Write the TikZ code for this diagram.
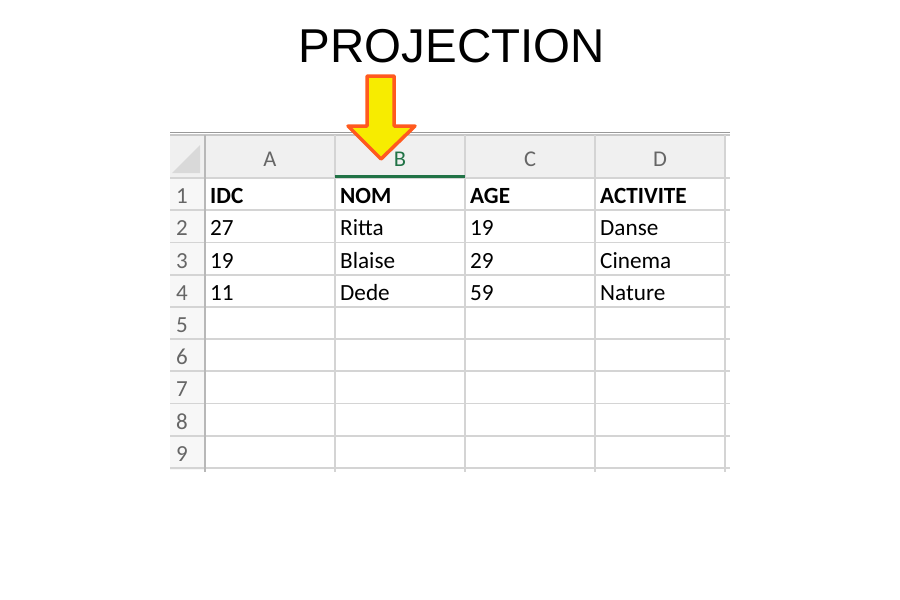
\documentclass[tikz,border=0pt]{standalone}
\usepackage{fontspec}
\setmainfont{Carlito}
\newfontfamily\titlefont{Liberation Sans}
\definecolor{gridgray}{HTML}{D4D4D4}
\definecolor{headfill}{HTML}{F0F0F0}
\definecolor{labgray}{HTML}{666666}
\definecolor{xlgreen}{HTML}{217346}
\definecolor{arrowfill}{HTML}{F7EC00}
\definecolor{arroworange}{HTML}{FF5A1E}

\begin{document}
\begin{tikzpicture}[x=1pt,y=-1pt,
  gridline/.style={draw=gridgray,line width=1.8pt},
  collabel/.style={anchor=base,inner sep=0pt,text=labgray,font=\fontsize{22.5}{22.5}\selectfont},
  rowlabel/.style={anchor=base,inner sep=0pt,text=labgray,font=\fontsize{23}{23}\selectfont},
  cell/.style={anchor=base west,inner sep=0pt,font=\fontsize{23.2}{23.2}\selectfont},
  headcell/.style={cell,font=\fontsize{23.2}{23.2}\selectfont\bfseries}]
\useasboundingbox (0,0) rectangle (900,600);

% title
\node[anchor=base,inner sep=0pt,font=\titlefont\fontsize{47.5}{47.5}\selectfont] (title) at (452,62) {PROJECTION};

% sheet background
\fill[headfill] (170,135) rectangle (725,178);
\fill[black!3] (170,178) rectangle (205,470);
\fill[black!15] (172,173) -- (200,173) -- (200,145) -- cycle;
\draw[black!40,line width=1.5pt] (170,132.5) -- (730,132.5);
\draw[black!22,line width=1.2pt] (170,135) -- (730,135);

% grid
\foreach \r in {0,...,9}
  \draw[gridline] (170,178+32.2*\r) -- (730,178+32.2*\r);
\foreach \x in {335,465,595,725}
  \draw[gridline] (\x,135) -- (\x,472);
\draw[draw=black!28,line width=1.8pt] (205,135) -- (205,472);
\draw[xlgreen,line width=3.2pt] (335,176.5) -- (465,176.5);

% column and row labels
\foreach \c/\x in {A/270,C/530,D/660}
  \node[collabel] (col\c) at (\x,166) {\c};
\node[collabel,text=xlgreen] (colB) at (400,166) {B};
\foreach \r in {1,...,9}
  \node[rowlabel] (row\r) at (182,178+32.2*\r-6.5) {\r};

% cells
\node[headcell] (idc) at (210,203.7) {IDC};
\node[headcell] (nom) at (340,203.7) {NOM};
\node[headcell] (age) at (470,203.7) {AGE};
\node[headcell] (act) at (600,203.7) {ACTIVITE};
\foreach \r/\a/\b/\c/\d in {2/27/Ritta/19/Danse,3/19/Blaise/29/Cinema,4/11/Dede/59/Nature}{
  \node[cell] (a\r) at (210,178+32.2*\r-6.5) {\a};
  \node[cell] (b\r) at (340,178+32.2*\r-6.5) {\b};
  \node[cell] (c\r) at (470,178+32.2*\r-6.5) {\c};
  \node[cell] (d\r) at (600,178+32.2*\r-6.5) {\d};
}

% arrow
\draw[arroworange,fill=arrowfill,line width=3.5pt,line join=round]
  (367,76) -- (394,76) -- (394,126) -- (415,126) -- (381,159)
  -- (348,126) -- (367,126) -- cycle;
\end{tikzpicture}
\end{document}
